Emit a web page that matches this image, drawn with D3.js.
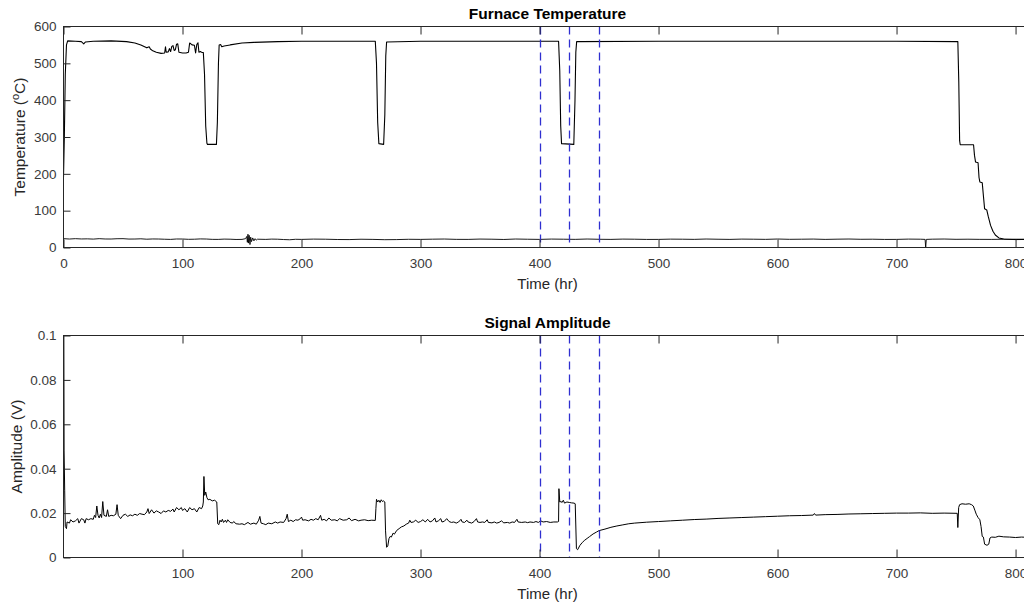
<!DOCTYPE html>
<html>
<head>
<meta charset="UTF-8">
<title>Furnace Temperature / Signal Amplitude</title>
<script src="https://cdn.jsdelivr.net/npm/d3@7"></script>
<style>
  body { margin: 0; background: #fff; }
  svg { display: block; font-family: "Liberation Sans", Arial, Helvetica, sans-serif; }
</style>
</head>
<body>
<svg width="1024" height="604"></svg>
<script>
// furnace set point trace [time hr, temp C]
var furnaceTemp = [
  [0,190],[0.7,300],[1.5,470],[2.5,550],[3.5,561],[10,560],[15,559],[17,553],[18.5,558],[25,560],
  [40,561],[53,559],[60,555],[65,550],[70,542],[72,545],[73,539],[75,534],[78,530],[82,527],
  [85,528],[85.7,545],[86.3,530],[88,531],[89,540],[90,532],[91,546],[92,548],[93,535],[94,537],
  [95,552],[96,553],[97,530],[100,528],[103,528],[105,530],[106,555],[107,553],[108,550],[110,549],
  [111,528],[112,551],[113,556],[113.8,530],[115,532],[116,530],[117.5,529],[118.5,470],[119.5,330],
  [120.5,283],[121,280],[128.5,280],[129.3,340],[130.2,500],[130.8,550],[132,551],[133,545],[135,547],
  [140,550],[150,555],[160,557],[180,559],[200,560],[262,560],[263,500],[264,340],[265,282],[269,280],
  [270,360],[270.8,520],[271.5,558],[300,560],[350,560],[400,560],[416,560],[417,480],[417.8,330],
  [418.5,282],[428.8,280],[429.8,400],[430.5,530],[431.2,559],[500,560],[600,560],[700,560],
  [751.5,559],[752.3,450],[753,290],[753.5,279],[764.7,279],[765.5,250],[766.4,232],[768.5,230],
  [769.3,190],[770,178],[772,176],[773,140],[774,105],[775.8,102],[777,85],[779,60],[781,44],
  [783,34],[786,26],[790,23],[800,22],[813,22]
];

// ambient / room temperature trace
var roomTemp = [
  [0,24],[5,23],[10,24],[15,23.2],[20,23.5],[25,22.8],[30,24],[35,23.1],[40,23],[45,23.8],[50,24],
  [55,22.9],[60,23],[65,23.6],[70,22.5],[75,23.2],[80,23],[85,22.4],[90,22],[95,23.1],[100,23],
  [105,22.2],[110,22.5],[115,23.3],[120,23],[125,22.1],[130,22],[135,22.8],[140,22.5],[145,21.8],
  [150,22],[153,24],[154,30],[154.5,14],[155,36],[155.5,12],[156,33],[156.7,8],[157.3,28],[158,16],
  [159,26],[160,18],[161,24],[162,20],[163,22.5],[170,22],[175,22.8],[180,22.5],[185,21.6],[190,21],
  [195,22.3],[200,22],[210,22.8],[220,22.5],[230,21.7],[240,21.5],[250,22.4],[260,22],[270,21.2],
  [280,21.5],[290,22.3],[300,22],[310,22.6],[320,23],[330,22.1],[340,22],[350,22.9],[360,22.5],
  [370,21.8],[380,23],[390,22.4],[400,22],[410,22.9],[420,22.5],[430,22.1],[440,23],[450,22.3],
  [460,22],[470,22.8],[480,22.5],[490,21.9],[500,22],[510,22.7],[520,22.5],[530,22.1],[540,23],
  [550,22.4],[560,22],[570,22.8],[580,22.5],[590,22.1],[600,23],[610,22.2],[620,22.5],[630,22.9],
  [640,22],[650,22.6],[660,23],[670,22.3],[680,22.5],[690,21.9],[700,22],[710,22.8],[720,22.5],
  [724,22],[724.5,0],[725,22],[730,22.6],[740,23],[750,22.2],[760,22.5],[770,22.1],[780,22],
  [790,22.4],[800,21.5],[813,22]
];

// sensor signal amplitude [time hr, volts]
var amplitude = [
  [0.3,0.1],[0.5,0.048],[1,0.03],[1.5,0.014],[2.5,0.013],[3,0.016],[5,0.0155],[6,0.017],[8,0.016],
  [10,0.0165],[12,0.0175],[13,0.0155],[15,0.0175],[17,0.017],[18,0.0155],[19,0.0175],[21,0.017],
  [23,0.0175],[25,0.0172],[26,0.019],[27,0.018],[28,0.0232],[29,0.019],[30,0.0178],[31,0.0195],
  [32,0.018],[33,0.0252],[34,0.019],[36,0.0185],[37,0.0215],[38,0.0185],[40,0.019],[42,0.0188],
  [44,0.0195],[45,0.0238],[46,0.019],[48,0.0175],[50,0.019],[52,0.0195],[54,0.0185],[56,0.0192],
  [58,0.0188],[60,0.0195],[62,0.019],[64,0.0198],[66,0.0195],[68,0.0193],[70,0.0205],[71,0.022],
  [72,0.0198],[74,0.0215],[76,0.02],[78,0.021],[80,0.0205],[82,0.0198],[84,0.021],[86,0.0205],
  [88,0.0212],[90,0.0208],[92,0.0218],[93,0.0205],[95,0.0225],[97,0.0215],[99,0.0225],[100,0.0212],
  [102,0.022],[104,0.0205],[106,0.0225],[108,0.0215],[110,0.022],[112,0.0205],[114,0.0225],
  [116,0.022],[117,0.0232],[117.5,0.025],[118,0.0365],[118.7,0.028],[119.5,0.0295],[120.5,0.027],
  [121.5,0.026],[123,0.0262],[125,0.0255],[127,0.0258],[128.8,0.025],[129.6,0.0152],[130.5,0.0148],
  [131.5,0.0168],[132.5,0.016],[133.5,0.0172],[134.5,0.0158],[136,0.0168],[137,0.0158],[138,0.017],
  [140,0.0158],[142,0.0155],[143,0.0162],[145,0.0152],[148,0.015],[150,0.0152],[152,0.0148],
  [155,0.0158],[157,0.015],[160,0.0155],[162,0.015],[164,0.0168],[165,0.0185],[166,0.0155],
  [168,0.0152],[170,0.0148],[172,0.0155],[175,0.0152],[178,0.016],[180,0.0155],[182,0.016],
  [185,0.0158],[187,0.0175],[188,0.0195],[189,0.0162],[191,0.0168],[193,0.0162],[195,0.017],
  [197,0.0168],[199,0.0175],[200,0.0182],[201,0.0168],[203,0.017],[206,0.0165],[208,0.0172],
  [210,0.0168],[212,0.0175],[214,0.017],[216,0.019],[217,0.0168],[219,0.0172],[221,0.0165],
  [223,0.0178],[225,0.0168],[228,0.017],[230,0.0165],[232,0.0175],[235,0.0168],[238,0.017],
  [240,0.0178],[242,0.0166],[245,0.0172],[248,0.0165],[250,0.0168],[253,0.017],[256,0.0166],
  [259,0.0168],[262,0.0167],[262.5,0.022],[263,0.0262],[264,0.025],[265,0.0258],[266,0.0248],
  [267,0.026],[268,0.0252],[269,0.0255],[270,0.025],[270.6,0.012],[271.5,0.0046],[272.5,0.0052],
  [273.5,0.0085],[274.5,0.0095],[275.5,0.0092],[277,0.011],[278,0.0105],[280,0.0122],[282,0.013],
  [284,0.0138],[286,0.0142],[288,0.015],[290,0.0155],[291,0.0168],[292,0.0158],[294,0.016],
  [296,0.0168],[298,0.0158],[300,0.0162],[302,0.017],[304,0.016],[306,0.0172],[308,0.016],
  [310,0.0165],[312,0.0178],[313,0.016],[315,0.0165],[317,0.0175],[318,0.016],[320,0.0163],
  [322,0.0175],[324,0.0162],[326,0.0158],[328,0.016],[330,0.0155],[332,0.016],[334,0.0172],
  [335,0.016],[337,0.0158],[339,0.0168],[340,0.016],[343,0.0155],[345,0.0162],[347,0.0175],
  [348,0.016],[350,0.0158],[352,0.016],[354,0.0158],[356,0.017],[357,0.0158],[360,0.0156],
  [362,0.016],[364,0.0155],[366,0.0158],[368,0.0165],[370,0.0156],[373,0.0158],[375,0.0155],
  [377,0.016],[379,0.0158],[381,0.0172],[382,0.016],[385,0.0158],[388,0.016],[390,0.0157],
  [392,0.016],[395,0.0158],[397,0.0162],[399,0.0158],[401,0.0165],[403,0.016],[406,0.0162],
  [409,0.0158],[412,0.016],[415,0.016],[416,0.0162],[416.3,0.031],[417,0.025],[418,0.0252],
  [419,0.0248],[420,0.0258],[421,0.0245],[423,0.025],[425,0.0248],[427,0.0246],[429,0.0245],
  [430,0.0242],[431,0.004],[432,0.0035],[434,0.0055],[436,0.0068],[438,0.0078],[440,0.0086],
  [442,0.0094],[445,0.0106],[448,0.0115],[450,0.0121],[455,0.0128],[460,0.0136],[465,0.0142],
  [470,0.0147],[475,0.0152],[480,0.0155],[490,0.0159],[500,0.0162],[510,0.0165],[520,0.0168],
  [530,0.0171],[540,0.0173],[550,0.0176],[560,0.0178],[570,0.018],[580,0.0182],[590,0.0184],
  [600,0.0186],[610,0.0188],[620,0.0189],[630,0.0191],[631,0.0198],[632,0.0191],[640,0.0193],
  [650,0.0194],[660,0.0196],[670,0.0197],[680,0.0198],[690,0.0199],[700,0.02],[710,0.02],
  [720,0.0201],[730,0.0199],[740,0.02],[751,0.0199],[751.5,0.0135],[752.2,0.0225],[753,0.0238],
  [755,0.0242],[758,0.024],[761,0.0242],[763,0.0238],[764.5,0.0232],[766,0.021],[767,0.0195],
  [768.5,0.018],[770,0.017],[771,0.014],[772,0.0095],[773,0.0092],[774,0.006],[776,0.0055],
  [777.5,0.006],[778.5,0.0088],[780,0.0092],[783,0.0091],[786,0.0096],[790,0.0093],[795,0.0092],
  [800,0.009],[805,0.0092],[813,0.009]
];

// vertical markers (hr)
var markerTimes = [400, 425, 450];

// ticks
var timeTicks = [0, 100, 200, 300, 400, 500, 600, 700, 800];
var tempTicks = [0, 100, 200, 300, 400, 500, 600];
var ampTicks = [0, 0.02, 0.04, 0.06, 0.08, 0.1];
var ampTickLabels = ["0", "0.02", "0.04", "0.06", "0.08", "0.1"];

var svg = d3.select("svg");
svg.append("rect").attr("width", 1024).attr("height", 604).attr("fill", "#fff");

var x = d3.scaleLinear().domain([0, 813.4]).range([63.5, 1031.5]);

function drawPanel(p) {
  var y = d3.scaleLinear().domain(p.yDomain).range([p.bottom, p.top]);
  var g = svg.append("g");
  var clipId = "clip" + p.id;

  g.append("clipPath").attr("id", clipId)
    .append("rect")
    .attr("x", x.range()[0]).attr("y", p.top)
    .attr("width", x.range()[1] - x.range()[0]).attr("height", p.bottom - p.top);

  // data lines
  var line = d3.line()
    .x(function(d){ return x(d[0]); })
    .y(function(d){ return y(d[1]); });
  var lines = g.append("g").attr("clip-path", "url(#" + clipId + ")");
  p.series.forEach(function(s){
    lines.append("path")
      .datum(s.data)
      .attr("d", line)
      .attr("fill", "none")
      .attr("stroke", "#000")
      .attr("stroke-width", s.width)
      .attr("stroke-linejoin", "round");
  });

  // dashed markers
  lines.selectAll("line.marker")
    .data(markerTimes)
    .enter()
    .append("line")
    .attr("class", "marker")
    .attr("x1", function(d){ return Math.round(x(d)) + 0.5; })
    .attr("x2", function(d){ return Math.round(x(d)) + 0.5; })
    .attr("y1", p.top)
    .attr("y2", p.bottom)
    .attr("stroke", "#2f2fd0")
    .attr("stroke-width", 1.3)
    .attr("stroke-dasharray", "8,5");

  // axes (ticks inward)
  var xt = p.xTicks;
  var bottomAx = g.append("g")
    .attr("transform", "translate(0," + p.bottom + ")")
    .call(d3.axisBottom(x).tickValues(xt).tickSizeInner(-8).tickSizeOuter(0).tickPadding(11));
  g.append("g")
    .attr("transform", "translate(0," + p.top + ")")
    .call(d3.axisTop(x).tickValues(xt).tickSizeInner(-8).tickSizeOuter(0).tickFormat(""));
  var leftAx = g.append("g")
    .attr("transform", "translate(" + x.range()[0] + ",0)")
    .call(d3.axisLeft(y).tickValues(p.yTicks).tickSizeInner(-7).tickSizeOuter(0).tickPadding(7)
      .tickFormat(function(d, i){ return p.yLabels[i]; }));
  g.append("g")
    .attr("transform", "translate(" + x.range()[1] + ",0)")
    .call(d3.axisRight(y).tickValues(p.yTicks).tickSizeInner(-7).tickSizeOuter(0).tickFormat(""));

  g.selectAll(".domain").remove();
  g.selectAll(".tick line").attr("stroke", "#262626");
  g.selectAll(".tick text")
    .attr("fill", "#3a3a3a")
    .style("font-size", "13.5px")
    .style("font-family", "'Liberation Sans', Arial, Helvetica, sans-serif");

  // box
  g.append("rect")
    .attr("x", x.range()[0]).attr("y", p.top)
    .attr("width", x.range()[1] - x.range()[0]).attr("height", p.bottom - p.top)
    .attr("fill", "none")
    .attr("stroke", "#262626")
    .attr("stroke-width", 1);

  // title
  var cx = (x.range()[0] + x.range()[1]) / 2;
  g.append("text")
    .attr("x", cx).attr("y", p.top - 8)
    .attr("text-anchor", "middle")
    .attr("font-weight", "bold")
    .attr("font-size", "15.5px")
    .attr("fill", "#000")
    .text(p.title);

  // x label
  g.append("text")
    .attr("x", cx).attr("y", p.bottom + 41)
    .attr("text-anchor", "middle")
    .attr("font-size", "15px")
    .attr("fill", "#262626")
    .text("Time (hr)");

  // y label
  var yl = g.append("text")
    .attr("transform", "translate(" + p.yLabelX + "," + ((p.top + p.bottom) / 2) + ") rotate(-90)")
    .attr("text-anchor", "middle")
    .attr("font-size", "15.5px")
    .attr("fill", "#262626");
  p.yLabel(yl);
}

// top panel
drawPanel({
  id: "t",
  top: 26.5, bottom: 247.5,
  yDomain: [0, 600],
  yTicks: tempTicks,
  yLabels: tempTicks.map(String),
  xTicks: timeTicks,
  title: "Furnace Temperature",
  yLabelX: 25,
  yLabel: function(t){
    t.append("tspan").text("Temperature (");
    t.append("tspan").attr("dy", -6).attr("font-size", "11px").text("o");
    t.append("tspan").attr("dy", 6).text("C)");
  },
  series: [
    { data: furnaceTemp, width: 1.1 },
    { data: roomTemp, width: 0.9 }
  ]
});

// bottom panel
drawPanel({
  id: "b",
  top: 335.5, bottom: 557.5,
  yDomain: [0, 0.1],
  yTicks: ampTicks,
  yLabels: ampTickLabels,
  xTicks: timeTicks.filter(function(d){ return d > 0; }),
  title: "Signal Amplitude",
  yLabelX: 22,
  yLabel: function(t){ t.text("Amplitude (V)"); },
  series: [
    { data: amplitude, width: 1 }
  ]
});
</script>
</body>
</html>
